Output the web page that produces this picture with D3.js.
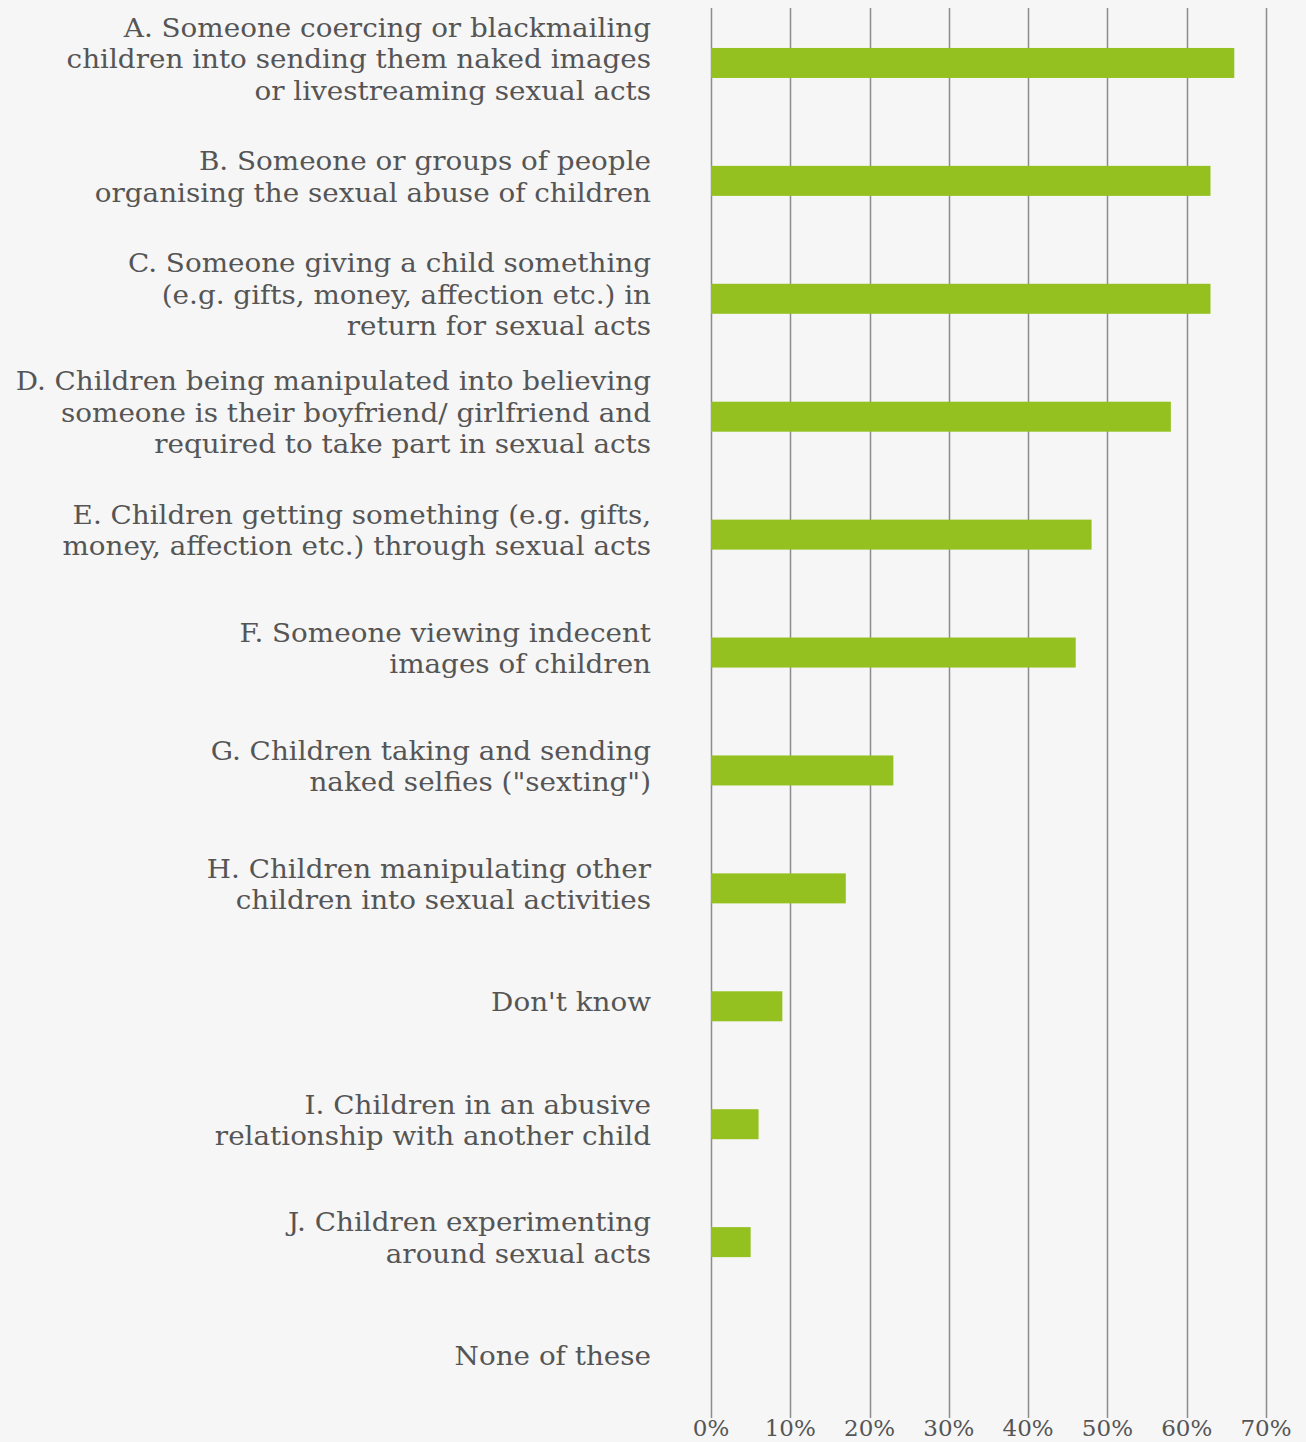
<!DOCTYPE html>
<html lang="en">
<head>
  <meta charset="UTF-8">
  <title>Bar chart</title>
  <script src="https://d3js.org/d3.v7.min.js"></script>
  <style>
    body { margin: 0; background: #f6f6f6; }
    svg { display: block; }
    .label {
      font-family: "DejaVu Serif", serif;
      font-size: 26px;
      fill: #555;
    }
    .tick-label {
      font-family: "DejaVu Serif", serif;
      font-size: 23px;
      fill: #555;
    }
  </style>
</head>
<body>
  <div id="chart"></div>
  <script>
    // Categories (label lines) and values in percent
    const categories = [
      ["A. Someone coercing or blackmailing", "children into sending them naked images", "or livestreaming sexual acts"],
      ["B. Someone or groups of people", "organising the sexual abuse of children"],
      ["C. Someone giving a child something", "(e.g. gifts, money, affection etc.) in", "return for sexual acts"],
      ["D. Children being manipulated into believing", "someone is their boyfriend/ girlfriend and", "required to take part in sexual acts"],
      ["E. Children getting something (e.g. gifts,", "money, affection etc.) through sexual acts"],
      ["F. Someone viewing indecent", "images of children"],
      ["G. Children taking and sending", "naked selfies (\"sexting\")"],
      ["H. Children manipulating other", "children into sexual activities"],
      ["Don't know"],
      ["I. Children in an abusive", "relationship with another child"],
      ["J. Children experimenting", "around sexual acts"],
      ["None of these"]
    ];
    const values = [66, 63, 63, 58, 48, 46, 23, 17, 9, 6, 5, 0];
    const ticks = [0, 10, 20, 30, 40, 50, 60, 70];

    const width = 1306, height = 1442;
    const data = categories.map((c, i) => ({ id: i, lines: c, value: values[i] }));

    const svg = d3.select("#chart").append("svg")
      .attr("width", width)
      .attr("height", height);

    svg.append("rect")
      .attr("width", width)
      .attr("height", height)
      .attr("fill", "#f6f6f6");

    const x = d3.scaleLinear().domain([0, 70]).range([711, 1266]);
    const y = d3.scaleBand().domain(data.map(d => d.id)).range([4, 1419]);

    // Gridlines
    svg.append("g")
      .selectAll("line")
      .data(ticks)
      .enter()
      .append("line")
      .attr("x1", d => Math.round(x(d)) + 0.5)
      .attr("x2", d => Math.round(x(d)) + 0.5)
      .attr("y1", 8)
      .attr("y2", 1418)
      .attr("stroke", "#8c8c8c")
      .attr("stroke-width", 1.5);

    // Tick labels
    svg.append("g")
      .selectAll("text")
      .data(ticks)
      .enter()
      .append("text")
      .attr("class", "tick-label")
      .attr("x", d => x(d))
      .attr("y", 1436)
      .attr("text-anchor", "middle")
      .text(d => d + "%");

    // Bars
    const barH = 30;
    svg.append("g")
      .selectAll("rect")
      .data(data)
      .enter()
      .append("rect")
      .attr("x", x(0))
      .attr("y", d => y(d.id) + y.bandwidth() / 2 - barH / 2)
      .attr("width", d => x(d.value) - x(0))
      .attr("height", barH)
      .attr("fill", "#94c11f");

    // Category labels (the original face is wider, so stretch a little)
    const lineH = 31.5;
    const labels = svg.append("g")
      .selectAll("text")
      .data(data)
      .enter()
      .append("text")
      .attr("class", "label")
      .attr("text-anchor", "end")
      .attr("transform", d => `translate(651,${y(d.id) + y.bandwidth() / 2 - 4}) scale(1.07,1)`);

    labels.selectAll("tspan")
      .data(d => d.lines.map((t, i) => ({ t, i, n: d.lines.length })))
      .enter()
      .append("tspan")
      .attr("x", 0)
      .attr("y", d => (d.i - (d.n - 1) / 2) * lineH)
      .attr("dy", "0.35em")
      .text(d => d.t);
  </script>
</body>
</html>
